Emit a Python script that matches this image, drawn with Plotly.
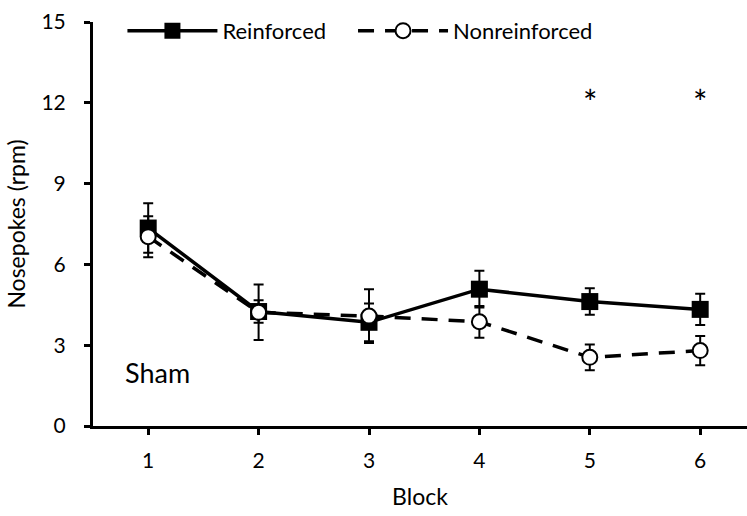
import plotly.graph_objects as go

blocks = [1, 2, 3, 4, 5, 6]
reinforced = [7.35, 4.25, 3.85, 5.08, 4.62, 4.33]
reinforced_err = [0.92, 0.42, 0.70, 0.68, 0.49, 0.58]
nonreinforced = [7.03, 4.22, 4.08, 3.87, 2.55, 2.80]
nonreinforced_err = [0.76, 1.03, 1.00, 0.59, 0.48, 0.54]
sig_blocks = [5, 6]
sig_level = 12.05
y_ticks = [0, 3, 6, 9, 12, 15]

FONT = "Lato, Calibri, Carlito, sans-serif"

fig = go.Figure()
fig.add_trace(go.Scatter(
    x=blocks, y=reinforced, name="Reinforced", mode="lines+markers",
    line=dict(color="black", width=3.5),
    marker=dict(symbol="square", size=17, color="black"),
    error_y=dict(type="data", array=reinforced_err, color="black", thickness=2, width=5),
    legend="legend",
))
fig.add_trace(go.Scatter(
    x=blocks, y=nonreinforced, name="Nonreinforced", mode="lines+markers",
    line=dict(color="black", width=3.5, dash="16px,11px"),
    marker=dict(symbol="circle", size=15, color="white", line=dict(color="black", width=2)),
    error_y=dict(type="data", array=nonreinforced_err, color="black", thickness=2, width=5),
    legend="legend2",
))

for b in sig_blocks:
    fig.add_annotation(x=b, y=sig_level, text="*", showarrow=False,
                       font=dict(size=34, color="black", family=FONT), xanchor="center", yanchor="middle")

fig.add_annotation(x=0.77, y=2.0, xref="x", yref="y", text="Sham", showarrow=False,
                   font=dict(size=27, color="black", family=FONT), xanchor="left", yanchor="middle")

legend_common = dict(orientation="h", y=0.978, xanchor="left", yanchor="middle",
                     font=dict(size=22, color="black", family=FONT), itemwidth=90,
                     bgcolor="rgba(0,0,0,0)")

fig.update_layout(
    width=747, height=516,
    margin=dict(l=93, r=0, t=22, b=90),
    paper_bgcolor="white", plot_bgcolor="white",
    font=dict(family=FONT, color="black", size=21),
    showlegend=True,
    legend=dict(x=0.045, **legend_common),
    legend2=dict(x=0.3976, **legend_common),
    xaxis=dict(range=[0.5, 6.424], tickvals=blocks, ticktext=[str(b) for b in blocks],
               showline=True, linecolor="black", linewidth=3, mirror=False,
               ticks="outside", ticklen=6, tickwidth=3, tickcolor="black",
               showgrid=False, zeroline=False, ticklabelstandoff=8,
               tickfont=dict(size=21, family=FONT, color="black"),
               title=dict(text="Block", font=dict(size=23, family=FONT, color="black"), standoff=18)),
    yaxis=dict(range=[0, 15], tickvals=y_ticks,
               showline=True, linecolor="black", linewidth=3,
               ticks="outside", ticklen=6, tickwidth=3, tickcolor="black",
               showgrid=False, zeroline=False, ticklabelstandoff=14,
               tickfont=dict(size=21, family=FONT, color="black"),
               title=dict(text="Nosepokes (rpm)", font=dict(size=23, family=FONT, color="black"), standoff=10)),
)

fig.write_html("out.html")
